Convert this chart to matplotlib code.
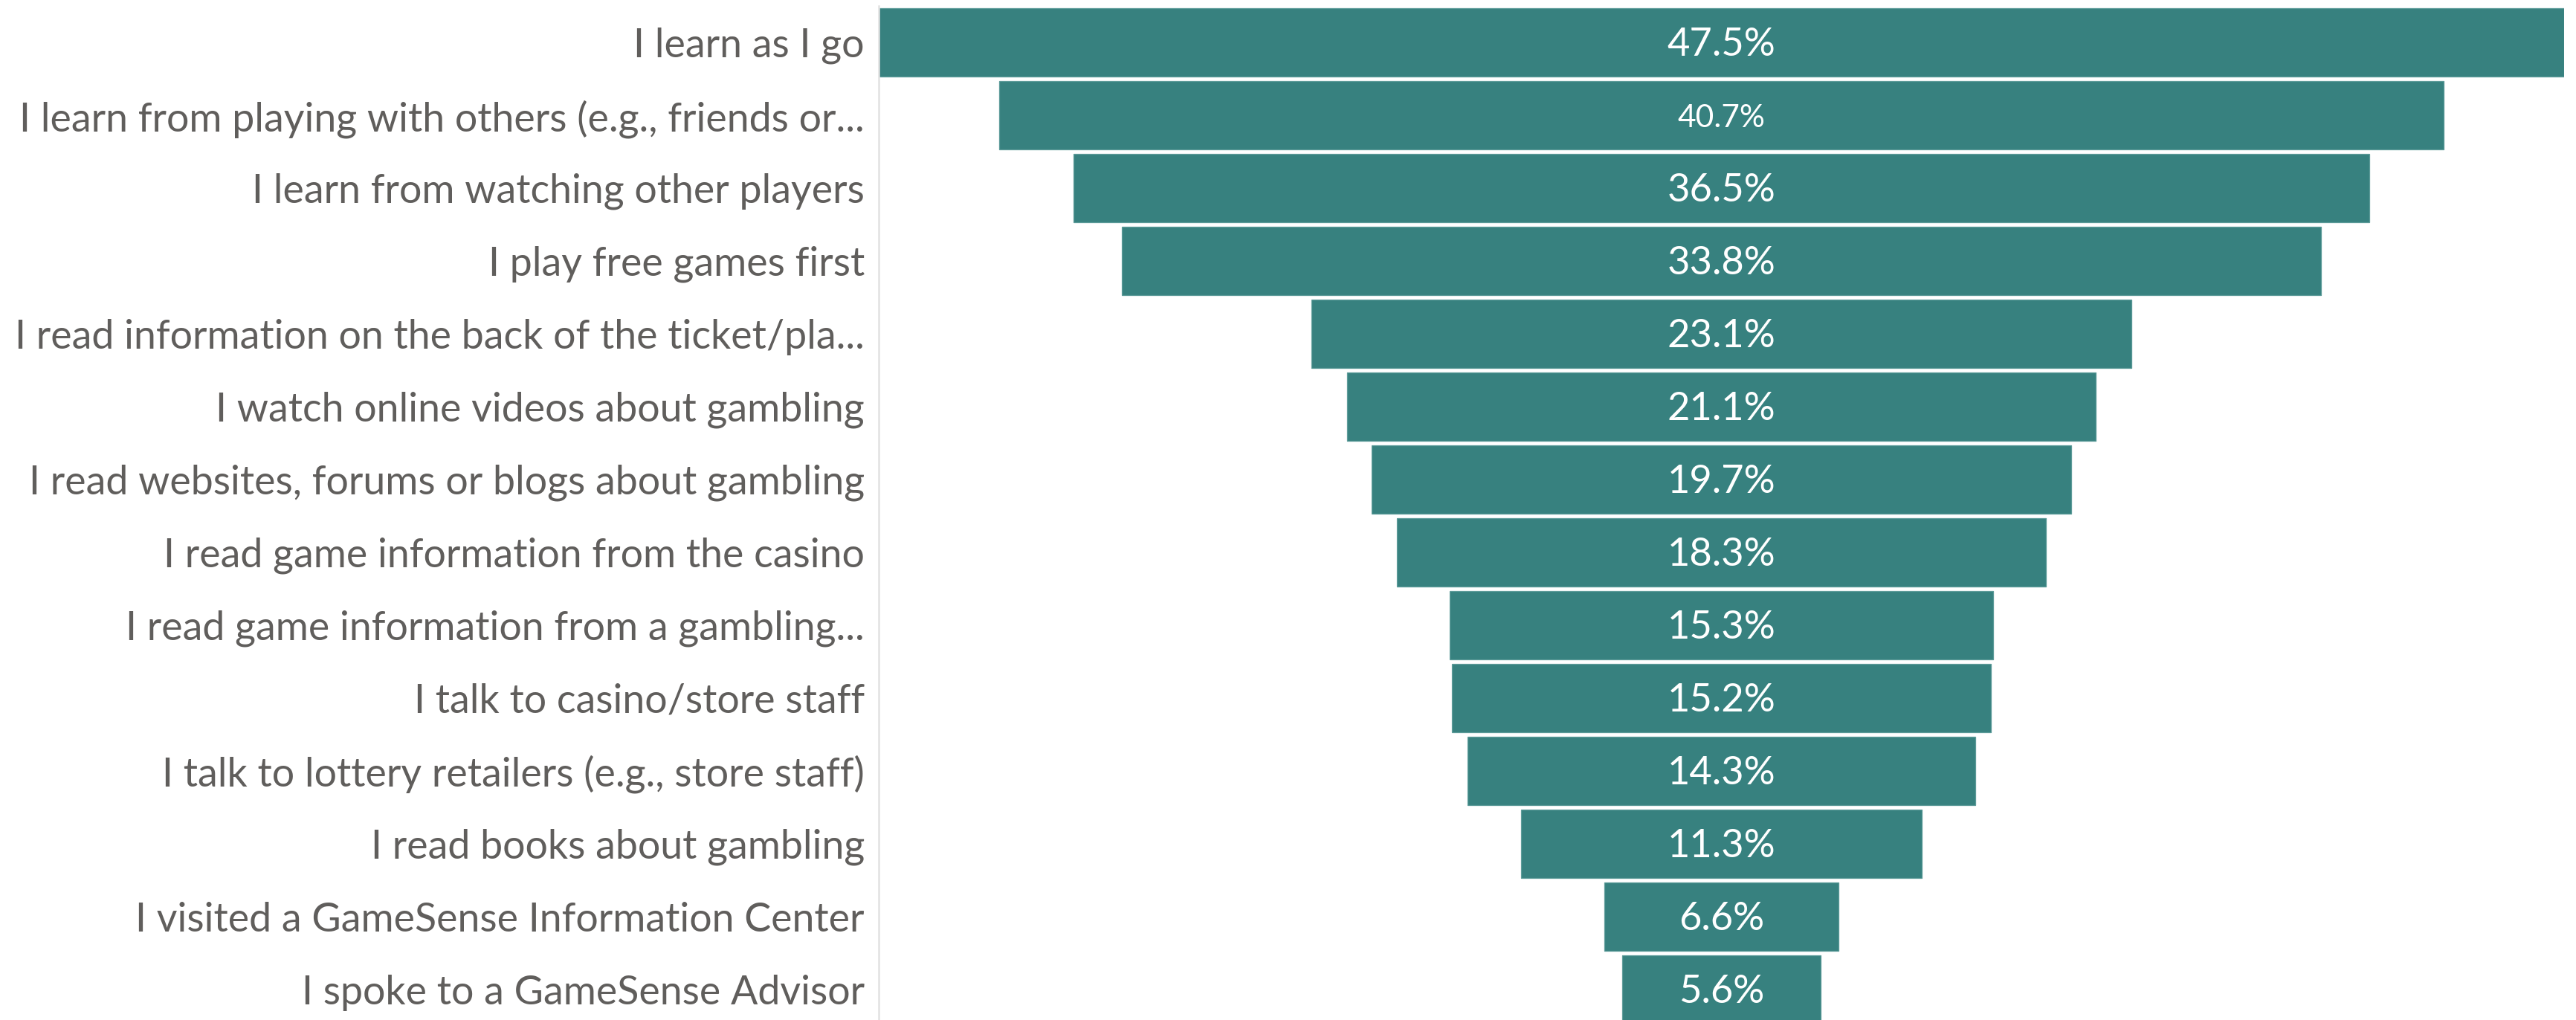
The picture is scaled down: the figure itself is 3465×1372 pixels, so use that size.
import numpy as np
import matplotlib.pyplot as plt

# ------------------------------------------------------
# data
# ------------------------------------------------------
categories = [
    "I learn as I go",
    "I learn from playing with others (e.g., friends or...",
    "I learn from watching other players",
    "I play free games first",
    "I read information on the back of the ticket/pla...",
    "I watch online videos about gambling",
    "I read websites, forums or blogs about gambling",
    "I read game information from the casino",
    "I read game information from a gambling...",
    "I talk to casino/store staff",
    "I talk to lottery retailers (e.g., store staff)",
    "I read books about gambling",
    "I visited a GameSense Information Center",
    "I spoke to a GameSense Advisor",
]
values = np.array([47.5, 40.7, 36.5, 33.8, 23.1, 21.1, 19.7, 18.3,
                   15.3, 15.2, 14.3, 11.3, 6.6, 5.6])

# ------------------------------------------------------
# style
# ------------------------------------------------------
plt.rcParams['font.family'] = ['Lato', 'DejaVu Sans']
bar_color = '#37817F'
label_color = '#605E5C'
label_size = 12.9
# the second value label gets squeezed a bit smaller
value_sizes = [12.6] * len(values)
value_sizes[1] = 10.2

W, H = 3465, 1372
fig = plt.figure(figsize=(W / 300, H / 300), dpi=300)
ax = fig.add_axes([1182 / W, 0, (3449 - 1182) / W, 1364 / H])

y = np.arange(len(values))
vmax = values.max()

# funnel: each bar centred on zero
ax.barh(y, values, left=-values / 2, height=0.94, color=bar_color,
        edgecolor='#5E9C9A', linewidth=0.3)

for i, v in enumerate(values):
    ax.text(0, i + 0.04, f'{v:.1f}%', ha='center', va='center', color='white',
            fontsize=value_sizes[i])

ax.set_xlim(-vmax / 2, vmax / 2)
ax.set_ylim(len(values) - 1 + 0.42, -0.5)

ax.set_yticks(y, categories, fontsize=label_size, color=label_color)
ax.tick_params(axis='y', length=0, pad=4.6)
ax.set_xticks([])

for side in ['top', 'right', 'bottom']:
    ax.spines[side].set_visible(False)
ax.spines['left'].set_color('#E1E1E1')
ax.spines['left'].set_linewidth(0.6)

fig.savefig('out.png', dpi=300, facecolor='white')
